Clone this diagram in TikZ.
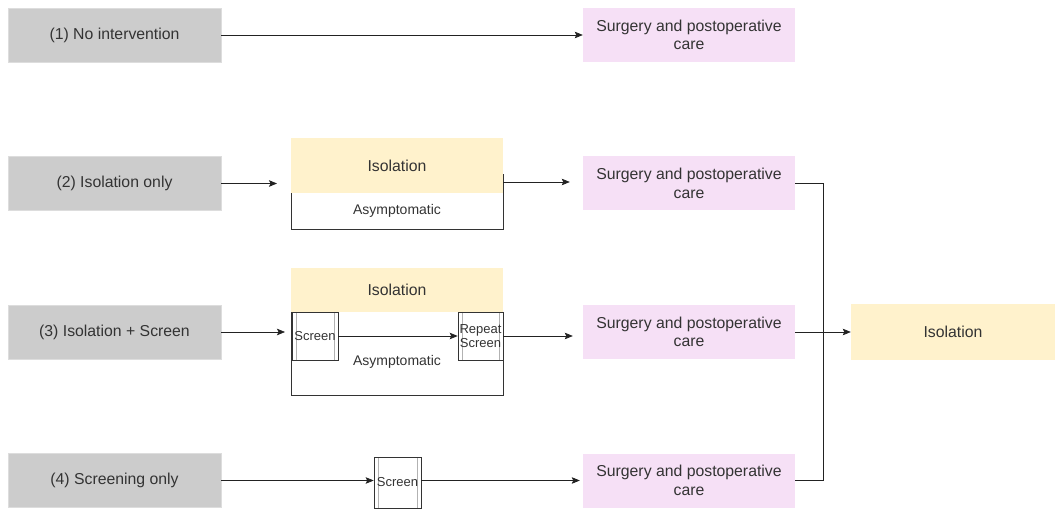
\documentclass[tikz,border=0pt]{standalone}
\usepackage{fontspec}
\setmainfont{Liberation Sans}
\usetikzlibrary{arrows.meta}
\definecolor{grayfill}{HTML}{CCCCCC}
\definecolor{grayline}{HTML}{DDDDDD}
\definecolor{yellowfill}{HTML}{FFF2CC}
\definecolor{pinkfill}{HTML}{F6E0F6}
\definecolor{txt}{HTML}{333333}
\definecolor{edge}{HTML}{222222}
\tikzset{
  base/.style={rectangle, inner sep=0pt, align=center, text=txt,
    font=\fontsize{15.8}{18.5}\selectfont},
  graybox/.style={base, fill=grayfill, draw=grayline, line width=0.8pt,
    minimum width=213pt, minimum height=54pt},
  pinkbox/.style={base, fill=pinkfill, minimum width=212pt, minimum height=54pt},
  yellowbox/.style={base, fill=yellowfill, minimum width=212pt},
  label/.style={base, font=\fontsize{14}{16}\selectfont},
  procbox/.style={base, draw=txt, line width=0.6pt, font=\fontsize{13}{14.5}\selectfont,
    path picture={
      \draw[gray!60, line width=0.8pt]
        ([xshift=4pt]path picture bounding box.north west) --
        ([xshift=4pt]path picture bounding box.south west);
      \draw[gray!60, line width=0.8pt]
        ([xshift=-4pt]path picture bounding box.north east) --
        ([xshift=-4pt]path picture bounding box.south east);}},
  conn/.style={draw=edge, line width=0.7pt},
  arr/.style={conn, -{Stealth[length=8pt,width=6.5pt,inset=1.5pt]}},
}
\begin{document}
\begin{tikzpicture}[x=1pt,y=-1pt]
\useasboundingbox (0,0) rectangle (1055,510);

% row 1
\node[graybox] (g1) at (114.5,35) {(1) No intervention};
\node[pinkbox] (p1) at (689,35) {Surgery and postoperative\\care};

% row 2
\node[graybox] (g2) at (114.5,183.5) {(2) Isolation only};
\draw[draw=txt, line width=0.7pt] (291,174) -- (291,229) -- (503,229) -- (503,174);
\coordinate (c2w) at (277,183.5);
\coordinate (c2e) at (503,182);
\node[yellowbox, minimum height=55pt] (y2) at (397,165.5) {Isolation};
\node[label] (a2) at (397,211) {Asymptomatic};
\node[pinkbox] (p2) at (689,183.5) {Surgery and postoperative\\care};

% row 3
\node[graybox] (g3) at (114.5,332) {(3) Isolation + Screen};
\draw[draw=txt, line width=0.7pt] (291,312) -- (291,395) -- (503,395) -- (503,312);
\node[yellowbox, minimum height=44pt] (y3) at (397,290) {Isolation};
\node[procbox, minimum width=46pt, minimum height=48pt] (s3) at (315,336) {Screen};
\node[procbox, minimum width=45pt, minimum height=48pt] (r3) at (480.5,336) {Repeat\\Screen};
\node[label] (a3) at (397,362) {Asymptomatic};
\node[pinkbox] (p3) at (689,332) {Surgery and postoperative\\care};
\coordinate (c3w) at (285,332);

% row 4
\node[graybox] (g4) at (114.5,480.5) {(4) Screening only};
\node[procbox, minimum width=47pt, minimum height=51pt] (s4) at (397.5,482.5) {Screen};
\node[pinkbox] (p4) at (689,480.5) {Surgery and postoperative\\care};

% final
\node[yellowbox, minimum width=204pt, minimum height=56pt] (iso) at (953,332) {Isolation};

% connectors
\draw[arr] (g1.east) -- (p1.west);
\draw[arr] (g2.east) -- (c2w);
\draw[arr] (c2e) -- ([xshift=-13pt]p2.west |- c2e);
\draw[arr] (g3.east) -- (c3w);
\draw[arr] (s3.east) -- (r3.west);
\draw[arr] (r3.east) -- ([xshift=-10pt]p3.west |- r3.east);
\draw[arr] (g4.east) -- (s4.west |- g4.east);
\draw[arr] (s4.east |- p4.west) -- ([xshift=-3pt]p4.west);
\draw[conn] (p2.east) -- ++(28,0) |- (p4.east);
\draw[arr] (p3.east) -- (iso.west);
\end{tikzpicture}
\end{document}
